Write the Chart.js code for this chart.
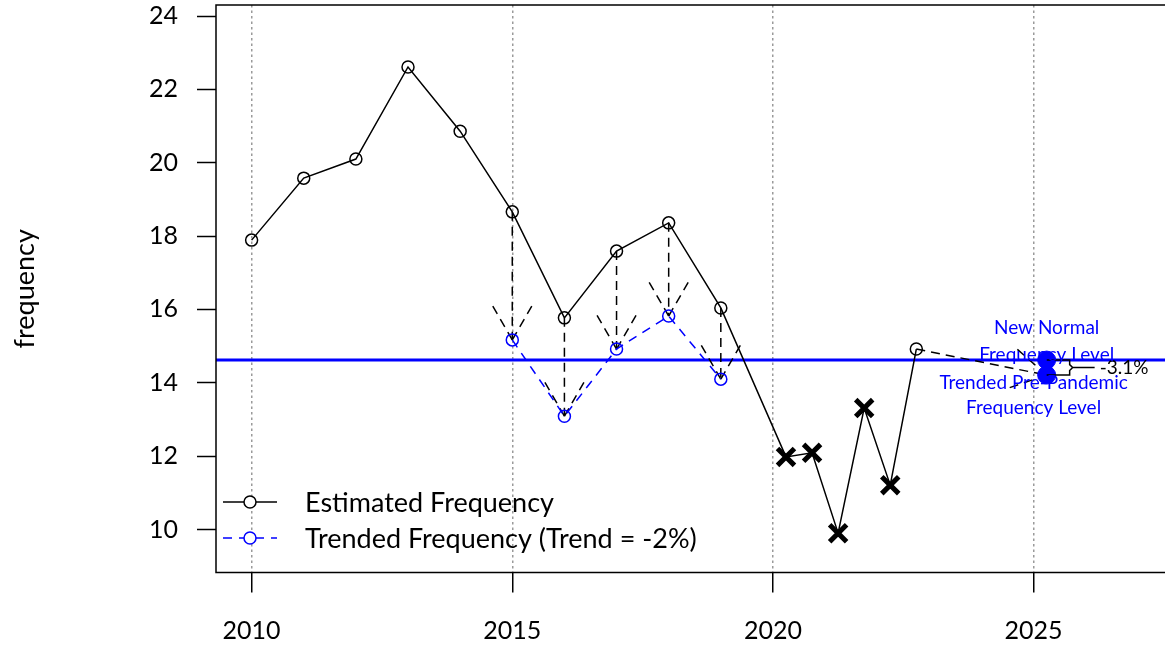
<!DOCTYPE html>
<html>
<head>
<meta charset="utf-8">
<script src="https://cdn.jsdelivr.net/npm/chart.js@4.4.1/dist/chart.umd.min.js"></script>
<style>
  html, body { margin: 0; padding: 0; background: #fff; }
  canvas { display: block; }
</style>
</head>
<body>
<canvas id="freqChart" width="1165" height="646"></canvas>
<script>
// estimated frequency by year (half-year steps during the pandemic)
const estYears = [2010, 2011, 2012, 2013, 2014, 2015, 2016, 2017, 2018, 2019,
  2020.25, 2020.75, 2021.25, 2021.75, 2022.25, 2022.75];
const estValues = [17.89, 19.58, 20.10, 22.61, 20.86, 18.66, 15.77, 17.59, 18.36, 16.04,
  11.98, 12.09, 9.90, 13.31, 11.21, 14.92];
// 1 = pandemic period point, drawn as a bold x
const pandemicFlags = [0, 0, 0, 0, 0, 0, 0, 0, 0, 0, 1, 1, 1, 1, 1, 0];

const trendYears = [2015, 2016, 2017, 2018, 2019];
const trendValues = [15.17, 13.09, 14.92, 15.82, 14.10];

const projYear = 2025.25;
const newNormalLevel = 14.62;
const trendedPreLevel = 14.21;
const changeLabel = '-3.1%';

const xTicks = [2010, 2015, 2020, 2025];
const yTicks = [10, 12, 14, 16, 18, 20, 22, 24];

const FONT = 'Lato, "Open Sans", sans-serif';
const BLUE = '#0000ff';
const DASH = [9, 6];
const HEAD_LEN = 44;
const HEAD_ANGLE = Math.PI / 6;

function drawArrow(ctx, x1, y1, x2, y2) {
  const ang = Math.atan2(y2 - y1, x2 - x1);
  ctx.beginPath();
  ctx.moveTo(x1, y1);
  ctx.lineTo(x2, y2);
  ctx.stroke();
  [ang + Math.PI - HEAD_ANGLE, ang + Math.PI + HEAD_ANGLE].forEach(a => {
    ctx.beginPath();
    ctx.moveTo(x2, y2);
    ctx.lineTo(x2 + HEAD_LEN * Math.cos(a), y2 + HEAD_LEN * Math.sin(a));
    ctx.stroke();
  });
}

const extrasPlugin = {
  id: 'extras',
  beforeDatasetsDraw(chart) {
    const { ctx, chartArea } = chart;
    const xs = chart.scales.x;
    const ys = chart.scales.y;

    // new normal level line
    ctx.save();
    ctx.strokeStyle = BLUE;
    ctx.lineWidth = 3;
    const yl = ys.getPixelForValue(newNormalLevel);
    ctx.beginPath();
    ctx.moveTo(chartArea.left, yl);
    ctx.lineTo(chartArea.right, yl);
    ctx.stroke();

    // arrows: estimated -> trended
    ctx.strokeStyle = '#000';
    ctx.lineWidth = 1.5;
    ctx.setLineDash(DASH);
    trendYears.forEach((yr, i) => {
      const j = estYears.indexOf(yr);
      const px = xs.getPixelForValue(yr);
      drawArrow(ctx, px, ys.getPixelForValue(estValues[j]), px, ys.getPixelForValue(trendValues[i]));
    });

    // arrow from last estimate to the trended pre-pandemic level
    const last = estYears.length - 1;
    drawArrow(ctx,
      xs.getPixelForValue(estYears[last]), ys.getPixelForValue(estValues[last]),
      xs.getPixelForValue(projYear), ys.getPixelForValue(trendedPreLevel));
    ctx.restore();
  },
  afterDatasetsDraw(chart) {
    const { ctx, chartArea } = chart;
    const xs = chart.scales.x;
    const ys = chart.scales.y;

    // plot frame (right side runs off the canvas)
    ctx.save();
    ctx.strokeStyle = '#000';
    ctx.lineWidth = 1.5;
    ctx.beginPath();
    ctx.moveTo(chartArea.right + 2, chartArea.top);
    ctx.lineTo(chartArea.left, chartArea.top);
    ctx.lineTo(chartArea.left, chartArea.bottom);
    ctx.lineTo(chartArea.right + 2, chartArea.bottom);
    ctx.stroke();

    // bracket with percentage change
    const bx = xs.getPixelForValue(projYear);
    const yTop = ys.getPixelForValue(newNormalLevel);
    const yBot = ys.getPixelForValue(trendedPreLevel);
    const yMid = (yTop + yBot) / 2;
    const x1 = bx + 23;
    ctx.beginPath();
    ctx.moveTo(bx, yTop);
    ctx.lineTo(x1, yTop);
    ctx.lineTo(x1, yMid - 3);
    ctx.lineTo(x1 + 3, yMid);
    ctx.lineTo(x1, yMid + 3);
    ctx.lineTo(x1, yBot);
    ctx.lineTo(bx, yBot);
    ctx.moveTo(x1 + 3, yMid);
    ctx.lineTo(x1 + 25, yMid);
    ctx.stroke();
    ctx.fillStyle = '#000';
    ctx.font = '19px ' + FONT;
    ctx.textAlign = 'left';
    ctx.textBaseline = 'middle';
    ctx.fillText(changeLabel, x1 + 30, yMid);

    // level labels
    ctx.fillStyle = BLUE;
    ctx.textAlign = 'center';
    ctx.fillText('New Normal', bx, yTop - 32);
    ctx.fillText('Frequency Level', bx, yTop - 5);
    const lx = xs.getPixelForValue(2025);
    ctx.fillText('Trended Pre-Pandemic', lx, yBot + 8);
    ctx.fillText('Frequency Level', lx, yBot + 33);

    // legend
    const lx0 = chartArea.left + 7;
    const lx1 = chartArea.left + 61;
    const lc = chartArea.left + 34;
    const rows = [
      { y: 502, color: '#000', dash: [], text: 'Estimated Frequency' },
      { y: 538, color: BLUE, dash: [9, 7], text: 'Trended Frequency (Trend = -2%)' }
    ];
    rows.forEach(r => {
      ctx.strokeStyle = r.color;
      ctx.lineWidth = 1.5;
      ctx.setLineDash(r.dash);
      ctx.beginPath();
      ctx.moveTo(lx0, r.y);
      ctx.lineTo(lx1, r.y);
      ctx.stroke();
      ctx.setLineDash([]);
      ctx.fillStyle = '#fff';
      ctx.beginPath();
      ctx.arc(lc, r.y, 6, 0, Math.PI * 2);
      ctx.fill();
      ctx.stroke();
      ctx.fillStyle = '#000';
      ctx.font = '27px ' + FONT;
      ctx.textAlign = 'left';
      ctx.textBaseline = 'middle';
      ctx.fillText(r.text, chartArea.left + 89, r.y + 1);
    });
    ctx.restore();
  }
};

new Chart(document.getElementById('freqChart'), {
  type: 'line',
  data: {
    datasets: [
      {
        label: 'levels',
        data: [{ x: projYear, y: newNormalLevel }, { x: projYear, y: trendedPreLevel }],
        showLine: false,
        pointRadius: 9,
        pointBackgroundColor: BLUE,
        pointBorderColor: BLUE,
        order: 0
      },
      {
        label: 'Trended Frequency (Trend = -2%)',
        data: trendYears.map((x, i) => ({ x, y: trendValues[i] })),
        borderColor: BLUE,
        borderWidth: 1.5,
        borderDash: [9, 7],
        pointRadius: 6,
        pointBorderWidth: 1.5,
        pointBorderColor: BLUE,
        pointBackgroundColor: 'rgba(0,0,0,0)',
        tension: 0,
        order: 1
      },
      {
        label: 'Estimated Frequency',
        data: estYears.map((x, i) => ({ x, y: estValues[i] })),
        borderColor: '#000',
        borderWidth: 1.5,
        pointStyle: pandemicFlags.map(f => f ? 'crossRot' : 'circle'),
        pointRadius: pandemicFlags.map(f => f ? 12 : 6),
        pointBorderWidth: pandemicFlags.map(f => f ? 5 : 1.5),
        pointBorderColor: '#000',
        pointBackgroundColor: 'rgba(0,0,0,0)',
        tension: 0,
        order: 2
      }
    ]
  },
  options: {
    responsive: false,
    animation: false,
    devicePixelRatio: 1,
    layout: { autoPadding: false, padding: { top: 5, right: 0, bottom: 0, left: 0 } },
    plugins: { legend: { display: false }, tooltip: { enabled: false } },
    scales: {
      x: {
        type: 'linear',
        min: 2009.317,
        max: 2027.52,
        afterBuildTicks: s => { s.ticks = xTicks.map(v => ({ value: v })); },
        afterFit: s => { s.height = 73.5; s.paddingLeft = 0; s.paddingRight = 0; },
        border: { display: false, dash: [2.5, 3] },
        grid: {
          color: '#9a9a9a',
          lineWidth: 1.5,
          tickLength: 20,
          tickColor: '#000',
          tickWidth: 1.5,
          tickBorderDash: []
        },
        ticks: {
          autoSkip: false,
          maxRotation: 0,
          padding: 23,
          color: '#000',
          font: { family: FONT, size: 25 },
          callback: v => String(v)
        }
      },
      y: {
        min: 8.828,
        max: 24.3,
        afterBuildTicks: s => { s.ticks = yTicks.map(v => ({ value: v })); },
        afterFit: s => { s.width = 216; s.paddingTop = 0; s.paddingBottom = 0; },
        border: { display: false },
        grid: {
          drawOnChartArea: false,
          tickLength: 19,
          tickColor: '#000',
          tickWidth: 1.5
        },
        ticks: {
          padding: 19,
          color: '#000',
          font: { family: FONT, size: 25 },
          callback: v => String(v)
        },
        title: {
          display: true,
          text: 'frequency',
          color: '#000',
          font: { family: FONT, size: 27 },
          padding: { top: 9, bottom: 0 }
        }
      }
    }
  },
  plugins: [extrasPlugin]
});
</script>
</body>
</html>
